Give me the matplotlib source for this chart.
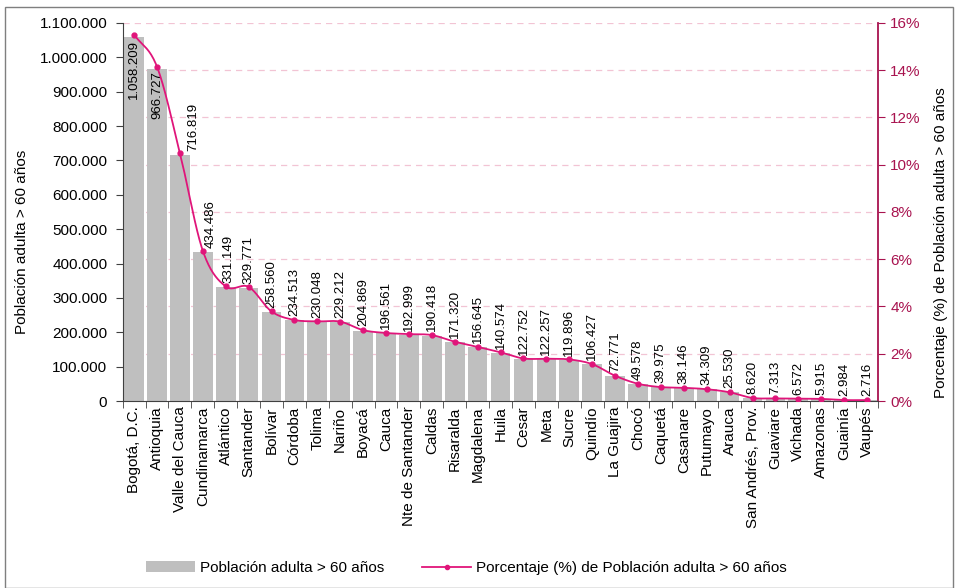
# Población adulta > 60 años por departamento
import numpy as np
import matplotlib.pyplot as plt
from matplotlib.patches import Rectangle, Patch
from matplotlib.lines import Line2D
from matplotlib.ticker import FuncFormatter

plt.rcParams['font.family'] = ['Liberation Sans', 'DejaVu Sans']

# Data
departamentos = ["Bogotá, D.C.", "Antioquia", "Valle del Cauca", "Cundinamarca", "Atlántico",
                 "Santander", "Bolívar", "Córdoba", "Tolima", "Nariño", "Boyacá", "Cauca",
                 "Nte de Santander", "Caldas", "Risaralda", "Magdalena", "Huila", "Cesar",
                 "Meta", "Sucre", "Quindío", "La Guajira", "Chocó", "Caquetá", "Casanare",
                 "Putumayo", "Arauca", "San Andrés, Prov.", "Guaviare", "Vichada", "Amazonas",
                 "Guainía", "Vaupés"]
poblacion = [1058209, 966727, 716819, 434486, 331149, 329771, 258560, 234513, 230048, 229212,
             204869, 196561, 192999, 190418, 171320, 156645, 140574, 122752, 122257, 119896,
             106427, 72771, 49578, 39975, 38146, 34309, 25530, 8620, 7313, 6572, 5915,
             2984, 2716]
porcentaje = [15.5, 14.15, 10.5, 6.36, 4.85, 4.83, 3.79, 3.43, 3.37, 3.36, 3.0, 2.88, 2.83,
              2.79, 2.51, 2.29, 2.06, 1.80, 1.79, 1.76, 1.56, 1.07, 0.73, 0.59, 0.56, 0.50,
              0.37, 0.13, 0.11, 0.10, 0.09, 0.04, 0.04]
# labels moved sideways so the line doesn't cross them
label_shift = {2: 0.6, 3: 0.35, 4: 0.1}

bar_color = '#BFBFBF'
line_color = '#E0157A'
axis_color = '#A8134F'


def miles(v, pos):
    return f"{int(v):,}".replace(",", ".")


def smooth(x, y, n=20):
    # Catmull-Rom curve through the points (like Excel's smoothed line)
    x = np.asarray(x, float)
    y = np.asarray(y, float)
    px = np.concatenate([[2 * x[0] - x[1]], x, [2 * x[-1] - x[-2]]])
    py = np.concatenate([[2 * y[0] - y[1]], y, [2 * y[-1] - y[-2]]])
    xs, ys = [], []
    t = np.linspace(0, 1, n, endpoint=False)
    for i in range(1, len(px) - 2):
        for p, out in ((px, xs), (py, ys)):
            p0, p1, p2, p3 = p[i - 1], p[i], p[i + 1], p[i + 2]
            out.extend(0.5 * (2 * p1 + (-p0 + p2) * t + (2 * p0 - 5 * p1 + 4 * p2 - p3) * t ** 2
                              + (-p0 + 3 * p1 - 3 * p2 + p3) * t ** 3))
    xs.append(x[-1])
    ys.append(y[-1])
    return np.array(xs), np.array(ys)


fig = plt.figure(figsize=(9.58, 5.88), dpi=100)
fig.patches.append(Rectangle((0.005, 0.0), 0.99, 0.988, transform=fig.transFigure,
                             fill=False, edgecolor='#7F7F7F', linewidth=1.0))
ax = fig.add_axes([0.128, 0.318, 0.789, 0.643])
ax2 = ax.twinx()
ax.set_zorder(ax2.get_zorder() + 1)
ax.patch.set_visible(False)

x = np.arange(len(departamentos))
ax.bar(x, poblacion, width=0.86, color=bar_color, zorder=2)

for xi, v in zip(x, poblacion):
    txt = f"{v:,}".replace(",", ".")
    lx = xi + label_shift.get(xi, 0)
    if v > 900000:
        ax.text(lx, v - 8000, txt, rotation=90, ha='center', va='top', fontsize=9.5, zorder=4)
    else:
        ax.text(lx, v + 12000, txt, rotation=90, ha='center', va='bottom', fontsize=9.5, zorder=4)

ax.set_xlim(-0.5, len(departamentos) - 0.5)
ax.set_ylim(0, 1100000)
ax.set_yticks(np.arange(0, 1100001, 100000))
ax.yaxis.set_major_formatter(FuncFormatter(miles))
ax.set_ylabel("Población adulta > 60 años", fontsize=11)
ax.yaxis.set_label_coords(-0.124, 0.42)
ax.set_xticks(x)
ax.set_xticklabels(departamentos, rotation=90, fontsize=11)
ax.set_xticks(np.arange(-0.5, len(departamentos)), minor=True)
ax.tick_params(axis='x', which='major', length=0, pad=4)
ax.tick_params(axis='x', which='minor', length=5, color='#404040')
ax.tick_params(axis='y', labelsize=11, length=5, pad=6, color='#404040')
ax.spines['top'].set_visible(False)
ax.spines['right'].set_visible(False)
ax.spines['left'].set_color('#404040')
ax.spines['bottom'].set_color('#404040')

# secondary axis (percentages), grid sits behind the bars
ax2.set_xlim(ax.get_xlim())
ax2.set_ylim(0, 16)
ax2.set_yticks(np.arange(0, 17, 2))
ax2.set_yticklabels([f"{v}%" for v in range(0, 17, 2)])
ax2.tick_params(axis='y', colors=axis_color, labelsize=11, length=5)
ax2.yaxis.grid(True, linestyle=(0, (5, 4)), color='#F2C4D4', linewidth=0.9)
ax2.spines['right'].set_color(axis_color)
ax2.spines['right'].set_linewidth(1.3)
for s in ('top', 'left', 'bottom'):
    ax2.spines[s].set_visible(False)
ax2.set_ylabel("Porcentaje (%) de Población adulta > 60 años", fontsize=11)
ax2.yaxis.set_label_coords(1.074, 0.42)

# percentage line drawn on top of the bars, in the secondary axis' units
sx, sy = smooth(x, porcentaje)
ax.plot(sx, sy, color=line_color, linewidth=1.3, zorder=5, transform=ax2.transData)
ax.plot(x, porcentaje, 'o', color=line_color, markersize=3.5, zorder=6, transform=ax2.transData)
ax.set_xlim(-0.5, len(departamentos) - 0.5)
ax.set_ylim(0, 1100000)

handles = [Patch(facecolor=bar_color, edgecolor='none'),
           Line2D([0], [0], color=line_color, marker='o', markersize=3, linewidth=1.3)]
fig.legend(handles, ["Población adulta > 60 años", "Porcentaje (%) de Población adulta > 60 años"],
           loc='center', bbox_to_anchor=(0.487, 0.034), ncol=2, frameon=False, fontsize=11,
           handlelength=3.2, handletextpad=0.3, columnspacing=2.5)

fig.savefig("out.png", dpi=100)
